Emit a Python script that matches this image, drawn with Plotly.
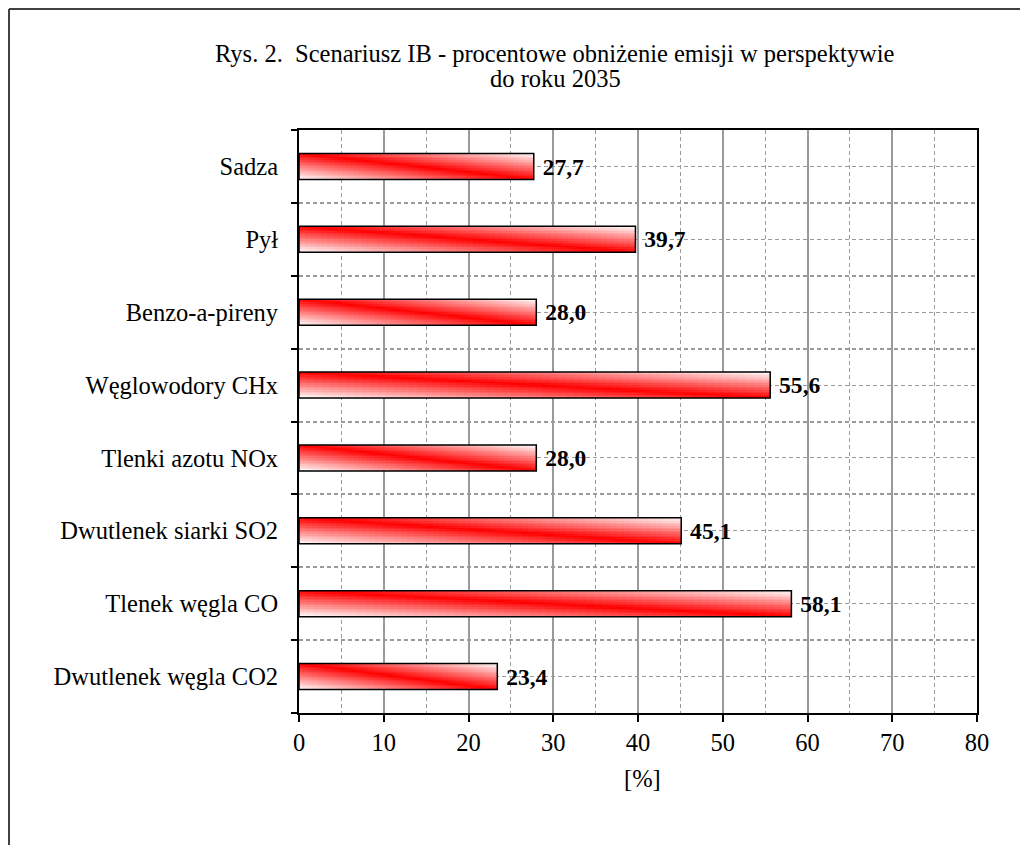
import numpy as np
import plotly.graph_objects as go

# dane (od dołu wykresu do góry)
kategorie = [
    "Dwutlenek węgla CO2",
    "Tlenek węgla CO",
    "Dwutlenek siarki SO2",
    "Tlenki azotu NOx",
    "Węglowodory CHx",
    "Benzo-a-pireny",
    "Pył",
    "Sadza",
]
wartosci = [23.4, 58.1, 45.1, 28.0, 55.6, 28.0, 39.7, 27.7]
x_ticks = [0, 10, 20, 30, 40, 50, 60, 70, 80]

FONT = "Liberation Serif"
FS = 24.5
BW = 0.356  # grubość słupka
pozycje = list(range(len(kategorie)))

fig = go.Figure()

# gradient w słupkach (ukośny pas czerwieni)
NX, NY = 60, 16
for pos, v in zip(pozycje, wartosci):
    xe = np.linspace(0, v, NX + 1)
    ye = np.linspace(pos - BW / 2, pos + BW / 2, NY + 1)
    u = (np.arange(NX) + 0.5) / NX
    t = 1 - (np.arange(NY) + 0.5) / NY  # odległość od góry słupka
    z = np.abs(u[None, :] - t[:, None])
    fig.add_trace(go.Heatmap(
        x=xe, y=ye, z=z, zmin=0, zmax=1,
        colorscale=[[0, "#ff0000"], [1, "#ffffff"]],
        showscale=False, hoverinfo="skip", zsmooth=False,
    ))

# obrys słupków + etykiety
fig.add_trace(go.Bar(
    x=wartosci, y=pozycje, orientation="h", width=BW,
    marker=dict(color="rgba(0,0,0,0)", line=dict(color="black", width=1.5)),
    texttemplate="\u00a0%{x:.1f}", textposition="outside",
    textfont=dict(family=FONT, size=FS, color="black", weight="bold"),
    cliponaxis=False, showlegend=False,
))

fig.update_xaxes(
    range=[0, 80], tickmode="array", tickvals=x_ticks,
    showgrid=True, gridcolor="#9a9a9a", gridwidth=1.5,
    minor=dict(dtick=5, tick0=0, showgrid=True, gridcolor="#9a9a9a",
               gridwidth=1.2, griddash="4px,3px"),
    ticks="outside", ticklen=7, tickcolor="black", tickwidth=1.5,
    showline=True, linecolor="black", linewidth=2, mirror=True,
    tickfont=dict(family=FONT, size=FS, color="black"),
    ticklabelstandoff=0, zeroline=False,
)
fig.update_yaxes(
    range=[-0.5, len(kategorie) - 0.5], tickmode="array",
    tickvals=pozycje, ticktext=kategorie,
    showgrid=True, gridcolor="#9a9a9a", gridwidth=1.2, griddash="4px,3px",
    minor=dict(tickmode="linear", tick0=0.5, dtick=1, showgrid=True,
               gridcolor="#9a9a9a", gridwidth=1.5,
               ticks="outside", ticklen=6, tickcolor="black", tickwidth=1.5),
    ticks="", showline=True, linecolor="black", linewidth=2, mirror=True,
    tickfont=dict(family=FONT, size=FS, color="black"),
    ticklabelstandoff=14, zeroline=False,
)

fig.update_layout(
    width=1028, height=845,
    margin=dict(l=291, r=59, t=122, b=140),
    paper_bgcolor="white", plot_bgcolor="white",
    separators=", ", barmode="overlay", showlegend=False,
    font=dict(family=FONT, color="black"),
)

# tytuł
fig.add_annotation(
    text="Rys. 2.\u00a0 Scenariusz IB - procentowe obniżenie emisji w perspektywie",
    xref="paper", yref="paper", x=0.378, y=1.132,
    xanchor="center", yanchor="middle", showarrow=False,
    font=dict(family=FONT, size=FS, color="black"),
)
fig.add_annotation(
    text="do roku 2035",
    xref="paper", yref="paper", x=0.378, y=1.0875,
    xanchor="center", yanchor="middle", showarrow=False,
    font=dict(family=FONT, size=FS, color="black"),
)
# tytuł osi
fig.add_annotation(
    text="[%]", xref="paper", yref="paper", x=0.506, y=-0.113,
    xanchor="center", yanchor="middle", showarrow=False,
    font=dict(family=FONT, size=FS, color="black"),
)

# ramka rysunku (lewa i górna krawędź)
fig.add_shape(type="line", xref="paper", yref="paper",
              x0=-0.4277, x1=-0.4277, y0=-0.3, y1=1.2075,
              line=dict(color="#404040", width=2))
fig.add_shape(type="line", xref="paper", yref="paper",
              x0=-0.4277, x1=1.2, y0=1.2075, y1=1.2075,
              line=dict(color="#404040", width=2))

fig.write_html("out.html")
